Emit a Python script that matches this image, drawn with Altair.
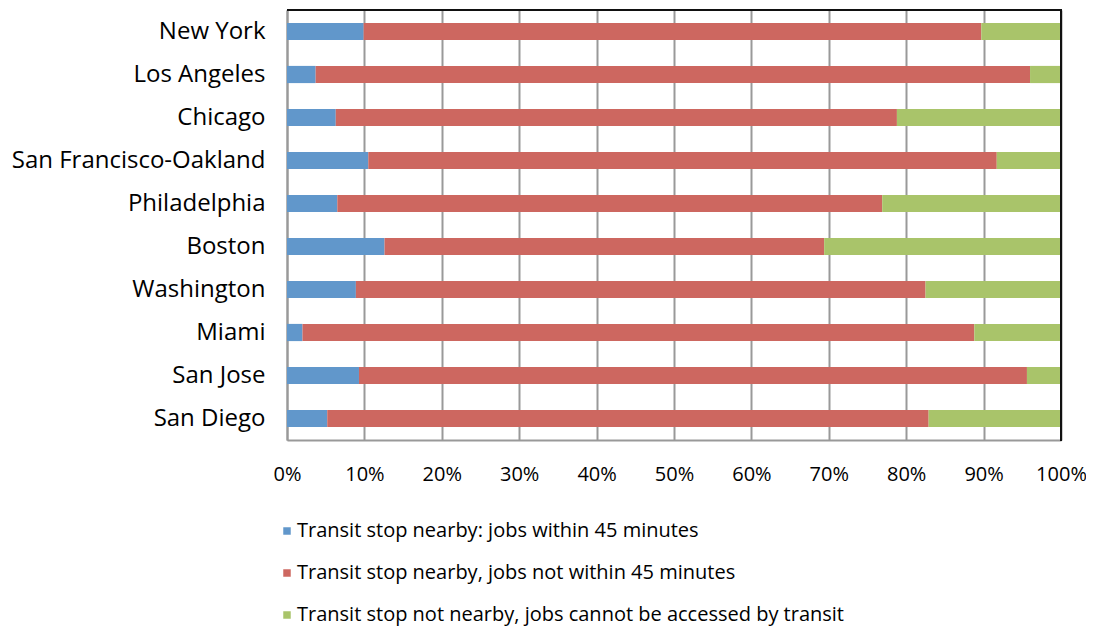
import altair as alt
import pandas as pd

cities = ["New York", "Los Angeles", "Chicago", "San Francisco-Oakland", "Philadelphia",
          "Boston", "Washington", "Miami", "San Jose", "San Diego"]
within_45 = [9.9, 3.7, 6.3, 10.5, 6.5, 12.6, 8.9, 2.0, 9.3, 5.2]
not_within_45 = [79.8, 92.3, 72.5, 81.2, 70.4, 56.8, 73.6, 86.8, 86.3, 77.7]
not_nearby = [10.3, 4.0, 21.2, 8.3, 23.1, 30.6, 17.5, 11.2, 4.4, 17.1]
series_names = [
    "Transit stop nearby: jobs within 45 minutes",
    "Transit stop nearby, jobs not within 45 minutes",
    "Transit stop not nearby, jobs cannot be accessed by transit",
]
colors = ["#6197CB", "#CD6760", "#A9C46A"]

rows = []
for i, c in enumerate(cities):
    for k, vals in enumerate([within_45, not_within_45, not_nearby]):
        rows.append({"city": c, "series": series_names[k], "value": vals[i], "order": k})
df = pd.DataFrame(rows)

FONT = "Open Sans"

bars = alt.Chart(df).mark_bar(stroke=None).encode(
    y=alt.Y("city:N", sort=cities, title=None,
            scale=alt.Scale(paddingInner=0.6, paddingOuter=0.3),
            axis=alt.Axis(ticks=False, labelPadding=22, labelFontSize=24, labelFont=FONT,
                          labelColor="#000", labelLimit=400,
                          domainColor="#999", domainWidth=2)),
    x=alt.X("value:Q", stack="normalize", title=None,
            scale=alt.Scale(domain=[0, 1], nice=False),
            axis=alt.Axis(format="%", values=[i / 10 for i in range(11)], ticks=False,
                          labelPadding=24, labelFontSize=20, labelFont=FONT, labelColor="#000",
                          labelOverlap=False, labelFlush=False, labelBound=False,
                          grid=True, gridColor="#999", gridWidth=2,
                          domainColor="#999", domainWidth=2)),
    color=alt.Color("series:N", sort=series_names,
                    scale=alt.Scale(domain=series_names, range=colors),
                    legend=alt.Legend(title=None, orient="none", legendX=-10, legendY=511,
                                      padding=0, offset=0,
                                      direction="vertical", symbolType="square",
                                      symbolSize=56, symbolStrokeWidth=0, labelFontSize=20,
                                      labelFont=FONT, labelColor="#000", labelOffset=0,
                                      rowPadding=22, labelLimit=800)),
    order=alt.Order("order:Q"),
)

frame_top = alt.Chart(df).mark_rule(color="#111", strokeWidth=2).encode(
    x=alt.value(0), x2=alt.value(775), y=alt.value(0))
frame_right = alt.Chart(df).mark_rule(color="#111", strokeWidth=2).encode(
    x=alt.value(774), y=alt.value(0), y2=alt.value(431))

chart = alt.layer(bars, frame_top, frame_right).properties(
    width=774, height=430,
    padding={"left": 279, "top": 2, "right": 25, "bottom": 188},
    autosize=alt.AutoSizeParams(type="none"),
).configure_view(
    stroke=None
).configure(background="white")

chart.save("out.html", embed_options={"renderer": "svg", "actions": False})
